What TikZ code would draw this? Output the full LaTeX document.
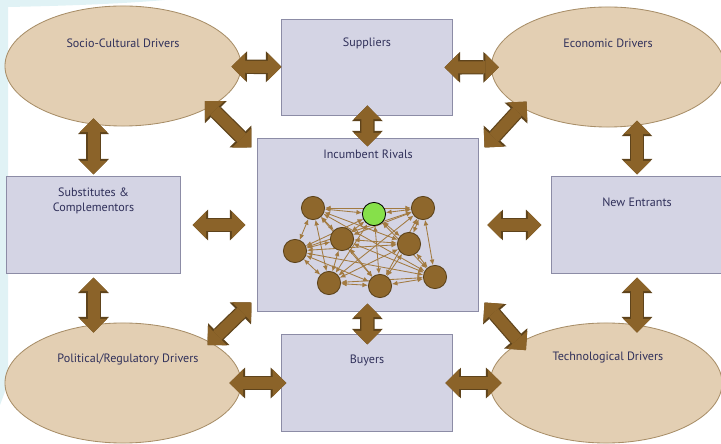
\documentclass[tikz,border=0pt]{standalone}
\usepackage{fontspec}
\setmainfont{PT Sans}
\usetikzlibrary{arrows.meta,calc,shapes.geometric}
\definecolor{driverfill}{HTML}{E3CFB3}
\definecolor{driveredge}{HTML}{A88E68}
\definecolor{forcefill}{HTML}{D4D4E4}
\definecolor{forceedge}{HTML}{8C8CA6}
\definecolor{arrowfill}{HTML}{8B6329}
\definecolor{arrowedge}{HTML}{5E431B}
\definecolor{rivalfill}{HTML}{8E672C}
\definecolor{rivaledge}{HTML}{5A4119}
\definecolor{linkcol}{HTML}{A27A40}
\definecolor{labelcol}{HTML}{30305A}
\definecolor{focusfill}{HTML}{86E04A}
\definecolor{decocol}{HTML}{E0F2F5}
\pgfdeclarelayer{front}
\pgfsetlayers{main,front}
\tikzset{
  driver/.style={draw=driveredge, fill=driverfill, ellipse, minimum width=5.9cm, minimum height=3cm, inner sep=0pt, line width=0.6pt},
  force/.style={draw=forceedge, fill=forcefill, rectangle, inner sep=0pt, line width=0.7pt},
  tag/.style={font=\fontsize{8.6}{10.2}\selectfont, text=labelcol, align=center},
  fatarrow/.style={draw=arrowfill, line width=0.3cm,
    {Triangle[width=0.68cm,length=0.34cm,line width=0pt]}-{Triangle[width=0.68cm,length=0.34cm,line width=0pt]},
    preaction={draw=arrowedge, line width=0.36cm,
      {Triangle[width=0.77cm,length=0.39cm,line width=0pt]}-{Triangle[width=0.77cm,length=0.39cm,line width=0pt]}}},
  rival/.style={circle, draw=rivaledge, fill=rivalfill, minimum size=0.58cm, inner sep=0pt, line width=0.6pt},
  link/.style={draw=linkcol, line width=0.6pt, {Latex[length=1.4mm,width=1.2mm]}-{Latex[length=1.4mm,width=1.2mm]}}
}

\begin{document}
\begin{tikzpicture}[x=0.025cm, y=-0.025cm]
  \useasboundingbox (0,0) rectangle (721,444);
  % slide backdrop
  \fill[decocol] (0,0) -- (165,0) .. controls (120,4) and (60,6) .. (8,7) -- (8,380) .. controls (5,392) .. (0,405) -- cycle;

  % drivers
  \node[driver] (socio) at (123,66) {};
  \node[driver, minimum width=5.83cm] (econ) at (608,67) {};
  \node[driver] (polit) at (123,383) {};
  \node[driver, minimum width=5.8cm] (tech) at (606,383) {};
  \path (socio) node[tag, yshift=0.575cm] {Socio-Cultural Drivers};
  \path (econ) node[tag, yshift=0.6cm] {Economic Drivers};
  \path (polit) node[tag, yshift=0.6cm, xshift=0.125cm] {Political/Regulatory Drivers};
  \path (tech) node[tag, yshift=0.625cm, xshift=0.05cm] {Technological Drivers};

  % forces
  \node[force, minimum width=4.25cm, minimum height=2.375cm] (supp) at (367,67.5) {};
  \node[force, minimum width=5.5cm, minimum height=4.3cm] (rivals) at (368,225) {};
  \node[force, minimum width=4.325cm, minimum height=2.4cm] (subst) at (93.5,225) {};
  \node[force, minimum width=4.25cm, minimum height=2.4cm] (newent) at (637,225) {};
  \node[force, minimum width=4.25cm, minimum height=2.4cm] (buyers) at (367,383) {};
  \path (supp) node[tag, yshift=0.61cm] {Suppliers};
  \path (rivals) node[tag, yshift=1.775cm] {Incumbent Rivals};
  \path (subst) node[tag, yshift=0.6cm] {Substitutes \&\\Complementors};
  \path (newent) node[tag, yshift=0.575cm] {New Entrants};
  \path (buyers) node[tag, yshift=0.575cm] {Buyers};

  % fat two-way arrows
  \draw[fatarrow, shorten <=-0.25cm] (socio) -- (supp);
  \draw[fatarrow, shorten <=-0.2cm, shorten >=-0.2cm] (supp) -- (econ);
  \draw[fatarrow, shorten <=0.05cm, shorten >=-0.2cm] (subst.north) -- (subst.north |- socio.south);
  \draw[fatarrow, shorten <=0.05cm, shorten >=-0.17cm] (newent.north) -- (newent.north |- econ.south);
  \draw[fatarrow, shorten <=0.3cm, shorten >=0.3cm] (subst) -- (rivals);
  \draw[fatarrow, shorten <=0.22cm, shorten >=0.25cm] (rivals) -- (newent);
  \draw[fatarrow, shorten <=0.1cm, shorten >=-0.25cm] (subst.south) -- (subst.south |- polit.north);
  \draw[fatarrow, shorten <=0.1cm, shorten >=-0.25cm] (newent.south) -- (newent.south |- tech.north);
  \draw[fatarrow, shorten <=-0.3cm, shorten >=-0.12cm] (polit) -- (buyers);
  \draw[fatarrow, shorten <=-0.18cm, shorten >=-0.3cm] (buyers) -- (tech);
  \draw[fatarrow, shorten <=-0.25cm, shorten >=-0.2cm] (supp) -- (rivals);
  \draw[fatarrow, shorten <=-0.2cm, shorten >=-0.25cm] (rivals) -- (buyers);
  \draw[fatarrow, shorten <=-0.2cm] (socio.-25) -- ([shift={(-6,9)}]rivals.north west);
  \draw[fatarrow, shorten <=-0.2cm] (econ.205) -- ([shift={(6,9)}]rivals.north east);
  \draw[fatarrow, shorten <=-0.1cm] (polit.25) -- ([shift={(-6,-9)}]rivals.south west);
  \draw[fatarrow, shorten <=-0.25cm] (tech.155) -- ([shift={(6,-9)}]rivals.south east);

  % rivals network
  \begin{pgfonlayer}{front}
    \node[rival] (r1) at (313,208) {};
    \node[rival, fill=focusfill, draw=black] (r2) at (374,214) {};
    \node[rival] (r3) at (423,208) {};
    \node[rival] (r4) at (342,239) {};
    \node[rival] (r5) at (409,244) {};
    \node[rival] (r6) at (295,251) {};
    \node[rival] (r7) at (435,277) {};
    \node[rival] (r8) at (329,283) {};
    \node[rival] (r9) at (380,286) {};
  \end{pgfonlayer}
  \foreach \i in {1,...,8}{
    \pgfmathtruncatemacro{\nxt}{\i+1}
    \foreach \k in {\nxt,...,9}
      \draw[link] (r\i) -- (r\k);
  }
\end{tikzpicture}
\end{document}
